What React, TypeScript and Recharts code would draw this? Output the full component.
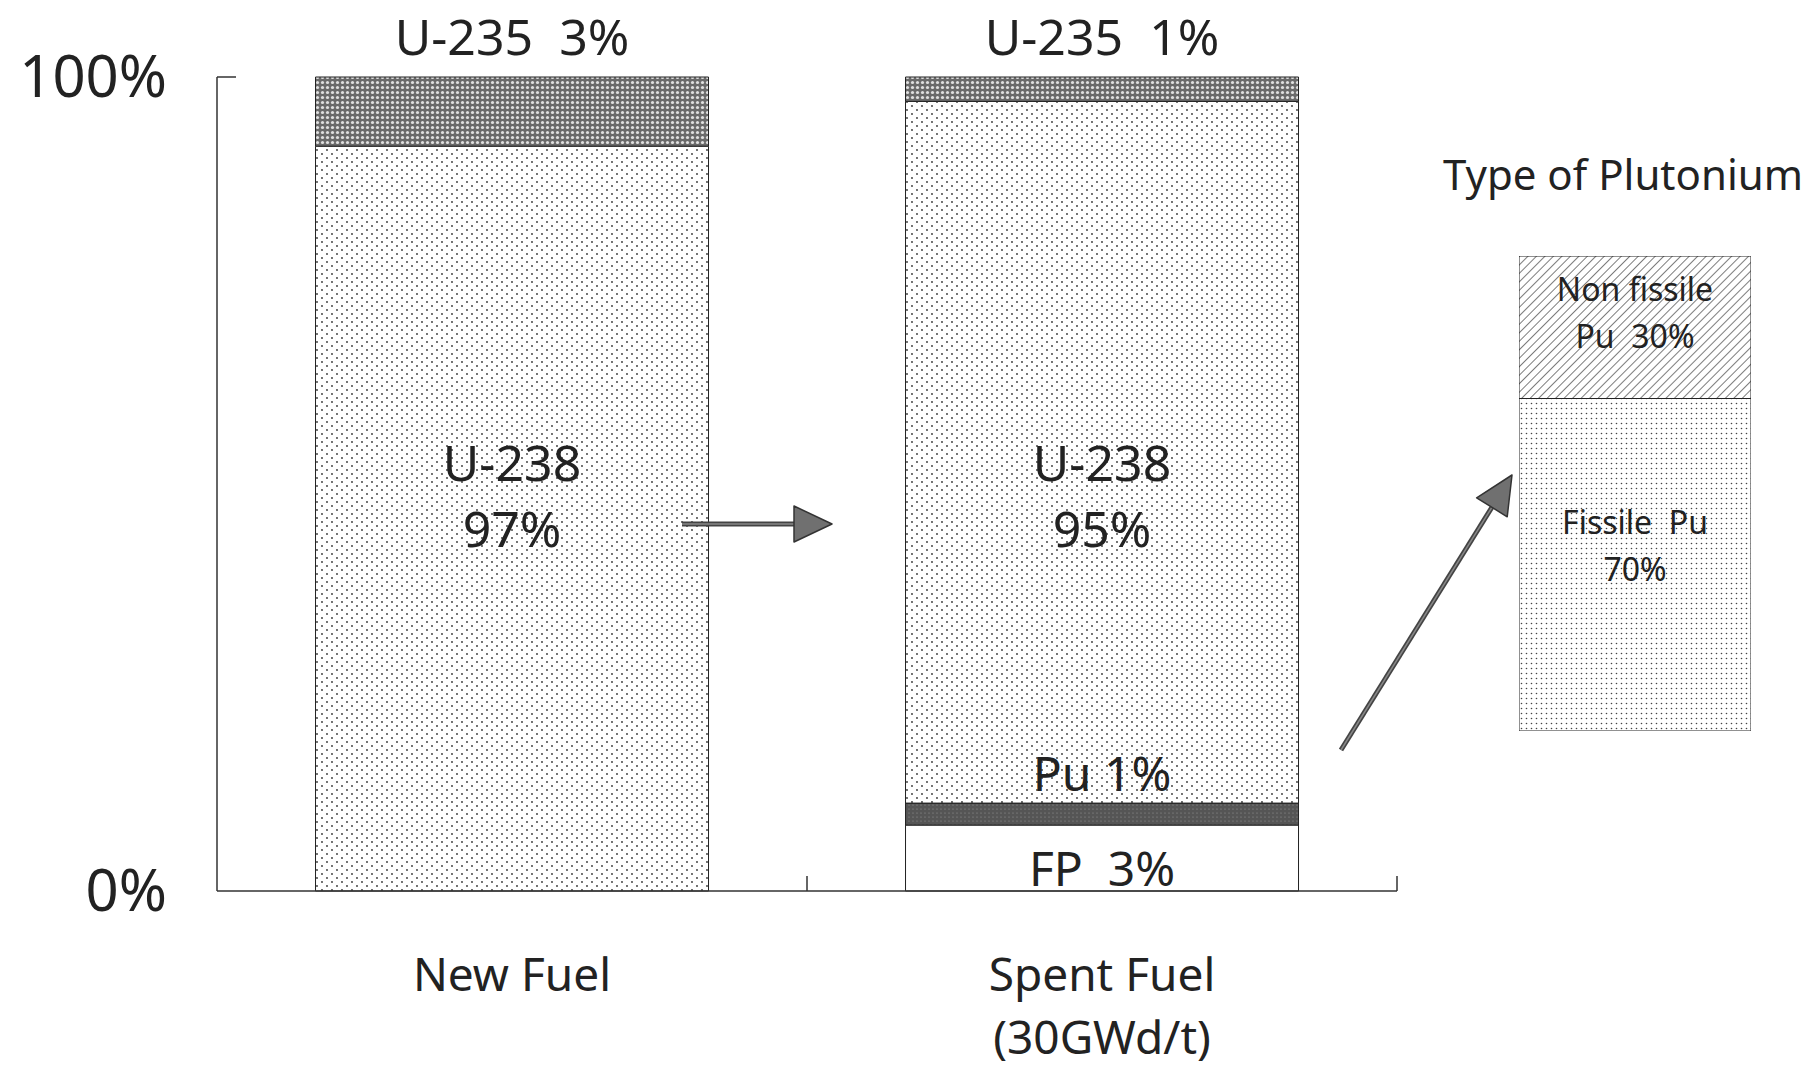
import React from "react";
import { BarChart, Bar, XAxis, YAxis, LabelList } from "recharts";

// main chart: drawn share of each layer (% of the axis), as seen in the figure
const CATEGORIES = ["New Fuel", "Spent Fuel|(30GWd/t)"];
const FP_SHARE = [0, 8.1];
const PU_SHARE = [0, 2.7];
const U238_SHARE = [91.5, 86.2];
const U235_SHARE = [8.5, 3.0];
const FP_LABELS = ["", "FP  3%"];
const PU_LABELS = ["", "Pu 1%"];
const U238_LABELS = ["U-238|97%", "U-238|95%"];
const U235_LABELS = ["U-235  3%", "U-235  1%"];
const Y_TICKS = [0, 100];

// plutonium breakdown
const PU_TYPES = ["Plutonium"];
const FISSILE_SHARE = [70];
const NON_FISSILE_SHARE = [30];
const FISSILE_LABELS = ["Fissile  Pu|70%"];
const NON_FISSILE_LABELS = ["Non fissile|Pu  30%"];

const FONT = "'Noto Sans', 'DejaVu Sans', sans-serif";
const INK = "#222";

const W = 1807;
const H = 1073;
const PLOT_LEFT = 217;
const PLOT_RIGHT = 1397;
const PLOT_TOP = 77;
const PLOT_BOTTOM = 891;
const MAIN_W = 1420;
const HALF_BAND = (PLOT_RIGHT - PLOT_LEFT) / CATEGORIES.length / 2;
const PLOT_MID = (PLOT_TOP + PLOT_BOTTOM) / 2;

const fuelData = CATEGORIES.map((name, i) => ({
  name,
  fp: FP_SHARE[i],
  pu: PU_SHARE[i],
  u238: U238_SHARE[i],
  u235: U235_SHARE[i],
  fpLabel: FP_LABELS[i],
  puLabel: PU_LABELS[i],
  u238Label: U238_LABELS[i],
  u235Label: U235_LABELS[i],
}));

const puData = PU_TYPES.map((name, i) => ({
  name,
  fissile: FISSILE_SHARE[i],
  nonFissile: NON_FISSILE_SHARE[i],
  fissileLabel: FISSILE_LABELS[i],
  nonFissileLabel: NON_FISSILE_LABELS[i],
}));

// svg collapses runs of spaces, keep them
const keepSpaces = (s: string) => s.replace(/ /g, "\u00a0");

function box(p: any) {
  const vb = p.viewBox && p.viewBox.width != null ? p.viewBox : p;
  return { x: vb.x, y: vb.y, w: vb.width, h: vb.height };
}

// label renderers
const topLabel = (p: any) => {
  if (!p.value) return null;
  const b = box(p);
  return (
    <text x={b.x + b.w / 2} y={b.y - 22} textAnchor="middle" fontSize={50} fontFamily={FONT} fill={INK}>
      {keepSpaces(p.value)}
    </text>
  );
};

const midLabel = (p: any) => {
  if (!p.value) return null;
  const b = box(p);
  const lines = String(p.value).split("|");
  return (
    <g>
      {lines.map((t, i) => (
        <text key={i} x={b.x + b.w / 2} y={PLOT_MID - 3 + i * 66} textAnchor="middle" fontSize={50} fontFamily={FONT} fill={INK}>
          {t}
        </text>
      ))}
    </g>
  );
};

const aboveLabel = (p: any) => {
  if (!p.value) return null;
  const b = box(p);
  return (
    <text x={b.x + b.w / 2} y={b.y - 12} textAnchor="middle" fontSize={48} fontFamily={FONT} fill={INK}>
      {keepSpaces(p.value)}
    </text>
  );
};

const bottomLabel = (p: any) => {
  if (!p.value) return null;
  const b = box(p);
  return (
    <text x={b.x + b.w / 2} y={b.y + b.h - 5} textAnchor="middle" fontSize={48} fontFamily={FONT} fill={INK}>
      {keepSpaces(p.value)}
    </text>
  );
};

const centerLabel = (shift: number) => (p: any) => {
  if (!p.value) return null;
  const b = box(p);
  const lines = String(p.value).split("|");
  const gap = 47;
  const mid = b.y + b.h / 2 + shift;
  return (
    <g>
      {lines.map((t, i) => (
        <text
          key={i}
          x={b.x + b.w / 2}
          y={mid + (i - (lines.length - 1) / 2) * gap + 11}
          textAnchor="middle"
          fontSize={32}
          fontFamily={FONT}
          fill={INK}
        >
          {keepSpaces(t)}
        </text>
      ))}
    </g>
  );
};

function XTick(p: any) {
  const { x, y, payload } = p;
  const lines = String(payload.value).split("|");
  return (
    <g>
      <line x1={x + HALF_BAND} x2={x + HALF_BAND} y1={y} y2={y - 15} stroke="#333" strokeWidth={1.5} />
      {lines.map((t, i) => (
        <text key={i} x={x} y={y + 100 + i * 63} textAnchor="middle" fontSize={46} fontFamily={FONT} fill={INK}>
          {t}
        </text>
      ))}
    </g>
  );
}

function YTick(p: any) {
  const { x, y, payload } = p;
  return (
    <g>
      {payload.value === 100 && <line x1={x} x2={x + 19} y1={y} y2={y} stroke="#333" strokeWidth={1.5} />}
      <text x={x - 50} y={y + 20} textAnchor="end" fontSize={58} fontFamily={FONT} fill={INK}>
        {payload.value}%
      </text>
    </g>
  );
}

function arrowHead(x1: number, y1: number, x2: number, y2: number, len: number, half: number) {
  const d = Math.hypot(x2 - x1, y2 - y1);
  const ux = (x2 - x1) / d;
  const uy = (y2 - y1) / d;
  const bx = x2 - ux * len;
  const by = y2 - uy * len;
  return {
    base: [bx, by],
    points: `${x2},${y2} ${bx - uy * half},${by + ux * half} ${bx + uy * half},${by - ux * half}`,
  };
}

function Arrow({ x1, y1, x2, y2 }: { x1: number; y1: number; x2: number; y2: number }) {
  const h = arrowHead(x1, y1, x2, y2, 38, 18);
  return (
    <g>
      <line x1={x1} y1={y1} x2={h.base[0]} y2={h.base[1]} stroke="#444" strokeWidth={5} />
      <line x1={x1} y1={y1} x2={h.base[0]} y2={h.base[1]} stroke="#888" strokeWidth={1.5} />
      <polygon points={h.points} fill="#707070" stroke="#333" strokeWidth={1.5} strokeLinejoin="round" />
    </g>
  );
}

const SEG_STROKE = "#222";

export default function App() {
  return (
    <div style={{ position: "absolute", left: 0, top: 0, width: W, height: H, background: "#fff", overflow: "hidden" }}>
      <div style={{ position: "absolute", left: 0, top: 0 }}>
        <BarChart
          width={MAIN_W}
          height={H}
          data={fuelData}
          margin={{ top: PLOT_TOP, right: MAIN_W - PLOT_RIGHT, left: 0, bottom: 0 }}
          barCategoryGap="16.7%"
        >
          <XAxis
            dataKey="name"
            height={H - PLOT_BOTTOM}
            axisLine={{ stroke: "#333", strokeWidth: 1.5 }}
            tickLine={false}
            tickSize={0}
            tickMargin={0}
            interval={0}
            tick={<XTick />}
          />
          <YAxis
            width={PLOT_LEFT}
            domain={[0, 100]}
            ticks={Y_TICKS}
            axisLine={{ stroke: "#333", strokeWidth: 1.5 }}
            tickLine={false}
            tickSize={0}
            tickMargin={0}
            tick={<YTick />}
          />
          <Bar dataKey="fp" stackId="a" fill="#ffffff" stroke={SEG_STROKE} strokeWidth={1} isAnimationActive={false}>
            <LabelList dataKey="fpLabel" content={bottomLabel} />
          </Bar>
          <Bar dataKey="pu" stackId="a" fill="url(#puFill)" stroke={SEG_STROKE} strokeWidth={1} isAnimationActive={false}>
            <LabelList dataKey="puLabel" content={aboveLabel} />
          </Bar>
          <Bar dataKey="u238" stackId="a" fill="url(#sparseDots)" stroke={SEG_STROKE} strokeWidth={1} isAnimationActive={false}>
            <LabelList dataKey="u238Label" content={midLabel} />
          </Bar>
          <Bar dataKey="u235" stackId="a" fill="url(#darkDots)" stroke={SEG_STROKE} strokeWidth={1} isAnimationActive={false}>
            <LabelList dataKey="u235Label" content={topLabel} />
          </Bar>
        </BarChart>
      </div>

      <div style={{ position: "absolute", left: 1519, top: 256 }}>
        <BarChart width={232} height={475} data={puData} margin={{ top: 0, right: 0, left: 0, bottom: 0 }} barCategoryGap={0}>
          <XAxis dataKey="name" hide />
          <YAxis hide domain={[0, 100]} />
          <Bar dataKey="fissile" stackId="p" fill="url(#denseDots)" stroke={SEG_STROKE} strokeWidth={1} isAnimationActive={false}>
            <LabelList dataKey="fissileLabel" content={centerLabel(-18)} />
          </Bar>
          <Bar dataKey="nonFissile" stackId="p" fill="url(#hatch)" stroke={SEG_STROKE} strokeWidth={1} isAnimationActive={false}>
            <LabelList dataKey="nonFissileLabel" content={centerLabel(-14)} />
          </Bar>
        </BarChart>
      </div>

      <svg width={W} height={H} style={{ position: "absolute", left: 0, top: 0, pointerEvents: "none" }}>
        <defs>
          <pattern id="sparseDots" width={10} height={8} patternUnits="userSpaceOnUse">
            <rect width={10} height={8} fill="#fff" />
            <circle cx={2} cy={2} r={0.9} fill="#333" />
            <circle cx={7} cy={6} r={0.9} fill="#333" />
          </pattern>
          <pattern id="denseDots" width={5} height={5} patternUnits="userSpaceOnUse">
            <rect width={5} height={5} fill="#fff" />
            <circle cx={2.5} cy={2.5} r={0.8} fill="#444" />
          </pattern>
          <pattern id="darkDots" width={5} height={5} patternUnits="userSpaceOnUse">
            <rect width={5} height={5} fill="#6a6a6a" />
            <circle cx={2.5} cy={2.5} r={1.6} fill="#e0e0e0" />
          </pattern>
          <pattern id="puFill" width={4} height={4} patternUnits="userSpaceOnUse">
            <rect width={4} height={4} fill="#555" />
            <circle cx={1} cy={1} r={0.6} fill="#999" />
          </pattern>
          <pattern id="hatch" width={6} height={6} patternUnits="userSpaceOnUse" patternTransform="rotate(45)">
            <rect width={6} height={6} fill="#fff" />
            <line x1={0} y1={0} x2={0} y2={6} stroke="#444" strokeWidth={1.4} />
          </pattern>
        </defs>
        <text x={1443} y={190} fontSize={42} fontFamily={FONT} fill={INK}>
          Type of Plutonium
        </text>
        <Arrow x1={682} y1={524} x2={832} y2={524} />
        <Arrow x1={1341} y1={750} x2={1512} y2={475} />
      </svg>
    </div>
  );
}
